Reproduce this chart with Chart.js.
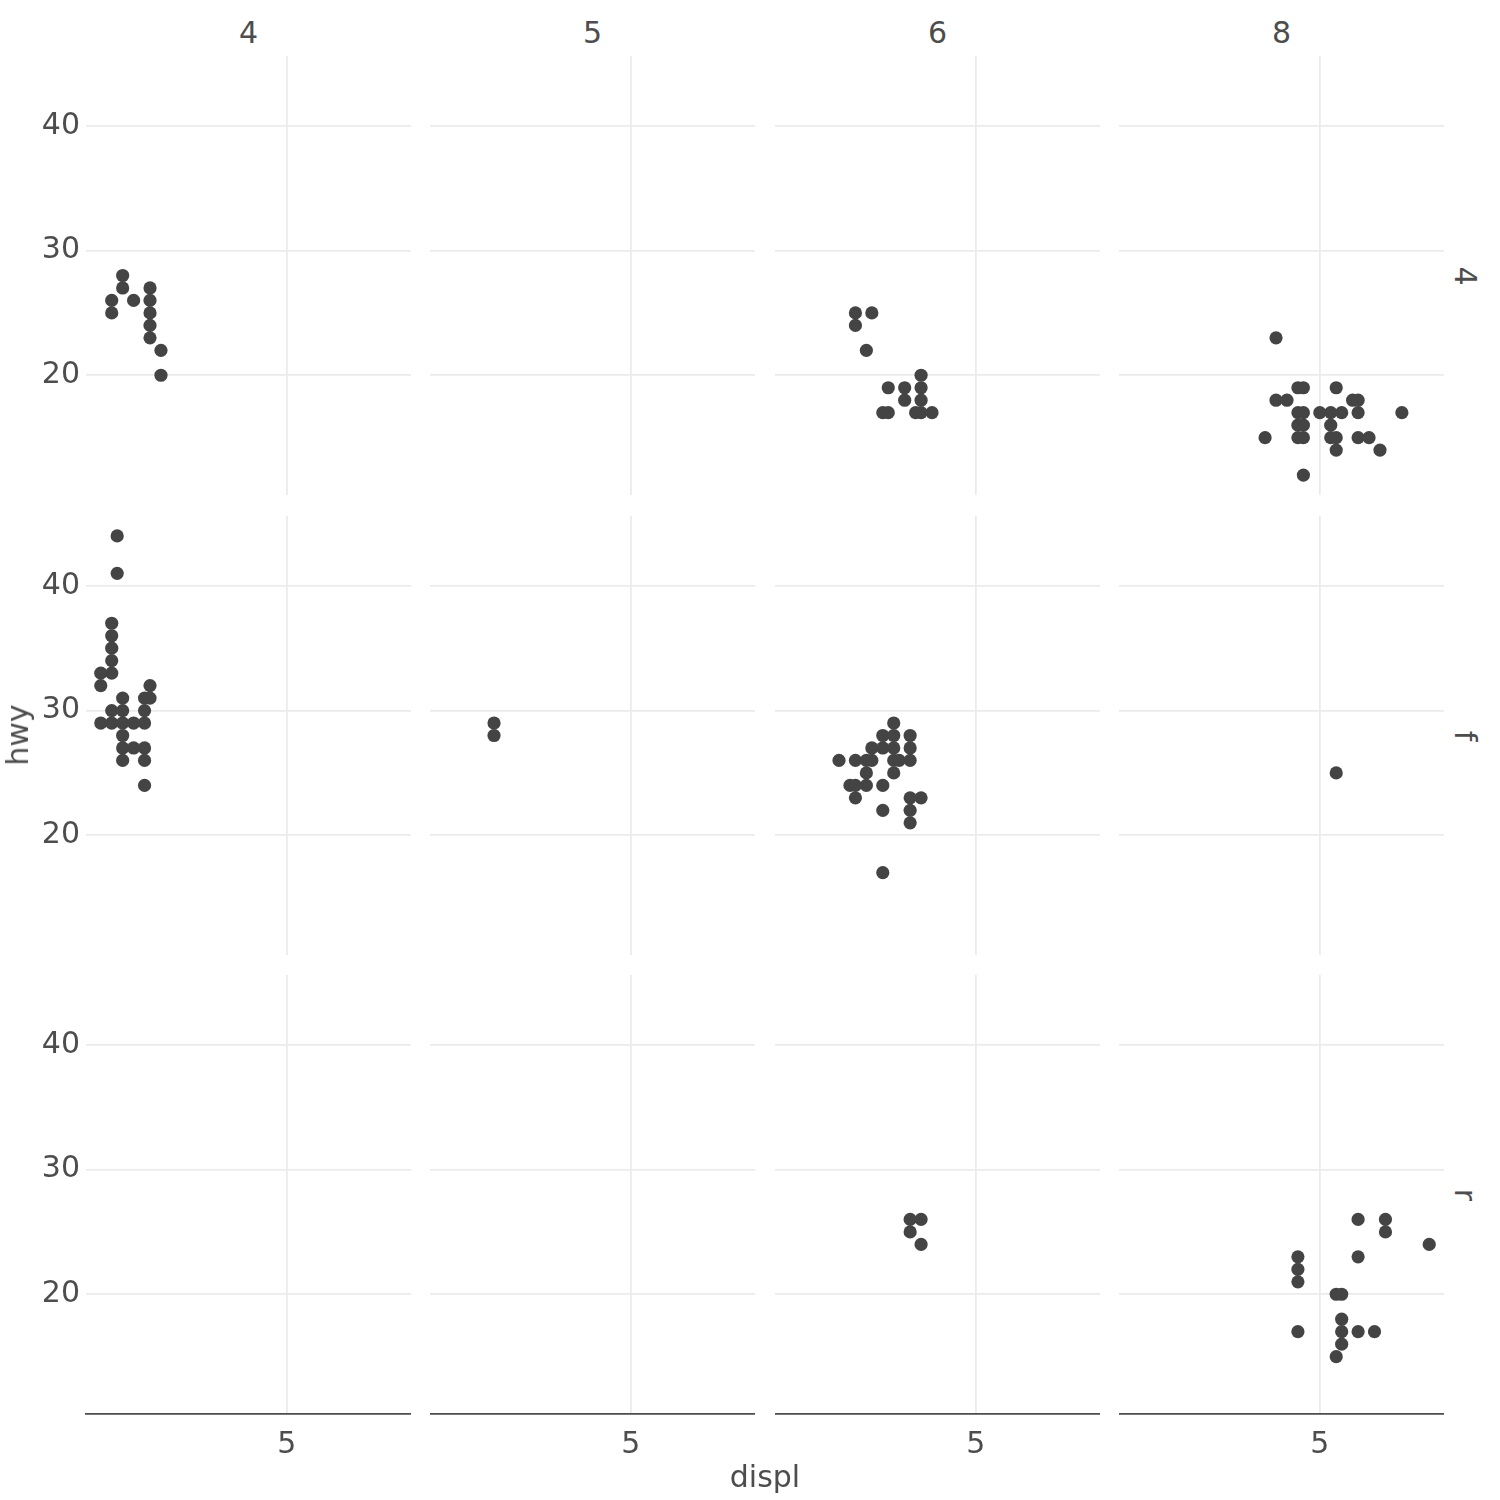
<!DOCTYPE html>
<html lang="en">
<head>
  <meta charset="UTF-8">
  <title>hwy vs displ by drv and cyl</title>
  <style>
    body {
      margin: 0;
      background: #ffffff;
    }
    #page {
      position: relative;
      width: 1500px;
      height: 1500px;
      font-family: "DejaVu Sans", sans-serif;
      color: #4d4d4d;
    }
    .panel {
      position: absolute;
    }
    .label {
      position: absolute;
      font-size: 30px;
      line-height: 30px;
      white-space: nowrap;
      transform: translate(-50%, -50%);
    }
  </style>
  <script src="https://cdn.jsdelivr.net/npm/chart.js"></script>
</head>
<body>
  <div id="page"></div>

  <script>
    // facet levels
    const drvLevels = ["4", "f", "r"];
    const cylLevels = ["4", "5", "6", "8"];

    // axis ticks
    const xTicks = [5];
    const yTicks = [20, 30, 40];

    // drv = 4
    const displ_4_4 = [1.8, 1.8, 2.0, 2.0, 2.2, 2.5, 2.5, 2.5, 2.5, 2.5, 2.7, 2.7];
    const hwy_4_4   = [26, 25, 28, 27, 26, 27, 26, 25, 24, 23, 22, 20];
    const displ_4_5 = [];
    const hwy_4_5   = [];
    const displ_4_6 = [2.8, 2.8, 3.1, 3.0, 3.4, 3.3, 3.4, 3.7, 3.7, 4.0, 4.0, 4.0, 4.0, 3.9, 4.2];
    const hwy_4_6   = [25, 24, 25, 22, 19, 17, 17, 19, 18, 20, 19, 18, 17, 17, 17];
    const displ_4_8 = [4.2, 4.6, 4.7, 5.3, 4.2, 4.4, 5.6, 5.7,
                       4.6, 4.7, 5.0, 5.2, 5.4, 5.7, 6.5,
                       4.6, 4.7, 5.2,
                       4.0, 4.6, 4.7, 5.2, 5.3, 5.7, 5.9,
                       5.3, 6.1, 4.7];
    const hwy_4_8   = [23, 19, 19, 19, 18, 18, 18, 18,
                       17, 17, 17, 17, 17, 17, 17,
                       16, 16, 16,
                       15, 15, 15, 15, 15, 15, 15,
                       14, 14, 12];

    // drv = f
    const displ_f_4 = [1.9, 1.9, 1.8, 1.8, 1.8, 1.8, 1.8, 1.6, 1.6, 2.5, 2.4, 2.5, 2.0, 1.8,
                       2.0, 2.4, 1.6, 1.8, 2.0, 2.2, 2.4, 2.0, 2.0, 2.2, 2.4, 2.0, 2.4, 2.4];
    const hwy_f_4   = [44, 41, 37, 36, 35, 34, 33, 33, 32, 32, 31, 31, 31, 30,
                       30, 30, 29, 29, 29, 29, 29, 28, 27, 27, 27, 26, 26, 24];
    const displ_f_5 = [2.5, 2.5];
    const hwy_f_5   = [29, 28];
    const displ_f_6 = [3.5, 3.3, 3.5, 3.8, 3.1, 3.3, 3.5, 3.8, 2.5, 2.8, 3.0, 3.1, 3.5, 3.6,
                       3.8, 3.0, 3.5, 2.7, 2.8, 3.0, 3.3, 2.8, 3.8, 4.0, 3.3, 3.8, 3.8, 3.3];
    const hwy_f_6   = [29, 28, 28, 28, 27, 27, 27, 27, 26, 26, 26, 26, 26, 26,
                       26, 25, 25, 24, 24, 24, 24, 23, 23, 23, 22, 22, 21, 17];
    const displ_f_8 = [5.3];
    const hwy_f_8   = [25];

    // drv = r
    const displ_r_4 = [];
    const hwy_r_4   = [];
    const displ_r_5 = [];
    const hwy_r_5   = [];
    const displ_r_6 = [3.8, 4.0, 3.8, 4.0];
    const hwy_r_6   = [26, 26, 25, 24];
    const displ_r_8 = [4.6, 4.6, 4.6, 4.6, 5.3, 5.4, 5.4, 5.4, 5.4, 5.3, 5.7, 6.0, 5.7, 6.2, 6.2, 7.0, 5.7];
    const hwy_r_8   = [23, 22, 21, 17, 20, 20, 18, 17, 16, 15, 17, 17, 26, 26, 25, 24, 23];

    const panels = {
      "4": { "4": [displ_4_4, hwy_4_4], "5": [displ_4_5, hwy_4_5], "6": [displ_4_6, hwy_4_6], "8": [displ_4_8, hwy_4_8] },
      "f": { "4": [displ_f_4, hwy_f_4], "5": [displ_f_5, hwy_f_5], "6": [displ_f_6, hwy_f_6], "8": [displ_f_8, hwy_f_8] },
      "r": { "4": [displ_r_4, hwy_r_4], "5": [displ_r_5, hwy_r_5], "6": [displ_r_6, hwy_r_6], "8": [displ_r_8, hwy_r_8] }
    };

    // layout
    const colLeft = [86, 430, 775, 1119];
    const rowTop = [56, 516, 975];
    const PANEL_W = 325;
    const PANEL_H = 439;
    const Y_AXIS_W = 86;
    const X_AXIS_H = 60;

    const INK = "#4d4d4d";
    const GRID = "#ebebeb";
    const POINT = "#444444";
    const tickFont = { family: "DejaVu Sans", size: 30 };

    const page = document.getElementById("page");

    function addLabel(text, x, y, rotate) {
      const el = document.createElement("div");
      el.className = "label";
      el.textContent = text;
      el.style.left = x + "px";
      el.style.top = y + "px";
      if (rotate) {
        el.style.transform = "translate(-50%, -50%) rotate(" + rotate + "deg)";
      }
      page.appendChild(el);
    }

    // no overflow padding from tick labels, so every plot area lines up
    function noPadding(axis) {
      axis.paddingTop = 0;
      axis.paddingBottom = 0;
      axis.paddingLeft = 0;
      axis.paddingRight = 0;
    }

    function makePanel(row, col) {
      const [xs, ys] = panels[drvLevels[row]][cylLevels[col]];
      const isLeft = col === 0;
      const isBottom = row === drvLevels.length - 1;

      const w = PANEL_W + (isLeft ? Y_AXIS_W : 0);
      const h = PANEL_H + (isBottom ? X_AXIS_H : 0);

      const wrap = document.createElement("div");
      wrap.className = "panel";
      wrap.style.left = (colLeft[col] - (isLeft ? Y_AXIS_W : 0)) + "px";
      wrap.style.top = rowTop[row] + "px";
      wrap.style.width = w + "px";
      wrap.style.height = h + "px";

      const canvas = document.createElement("canvas");
      canvas.width = w;
      canvas.height = h;
      wrap.appendChild(canvas);
      page.appendChild(wrap);

      new Chart(canvas, {
        type: "scatter",
        data: {
          datasets: [{
            data: xs.map((x, i) => ({ x: x, y: ys[i] })),
            backgroundColor: POINT,
            borderWidth: 0,
            pointRadius: 6.6,
            pointHoverRadius: 6.6
          }]
        },
        options: {
          responsive: false,
          animation: false,
          layout: { padding: 0, autoPadding: false },
          plugins: {
            legend: { display: false },
            tooltip: { enabled: false }
          },
          scales: {
            x: {
              type: "linear",
              min: 1.33,
              max: 7.27,
              afterBuildTicks: axis => { axis.ticks = xTicks.map(v => ({ value: v })); },
              afterFit: axis => {
                axis.height = isBottom ? X_AXIS_H : 0;
                noPadding(axis);
              },
              grid: { color: GRID, lineWidth: 1.8, drawTicks: false },
              border: { display: isBottom, color: INK, width: 1.8 },
              ticks: { display: isBottom, padding: 13, color: INK, font: tickFont }
            },
            y: {
              type: "linear",
              min: 10.4,
              max: 45.6,
              afterBuildTicks: axis => { axis.ticks = yTicks.map(v => ({ value: v })); },
              afterFit: axis => {
                axis.width = isLeft ? Y_AXIS_W : 0;
                noPadding(axis);
              },
              grid: { color: GRID, lineWidth: 1.8, drawTicks: false },
              border: { display: false },
              ticks: { display: isLeft, padding: 6, color: INK, font: tickFont }
            }
          }
        }
      });
    }

    for (let r = 0; r < drvLevels.length; r++) {
      for (let c = 0; c < cylLevels.length; c++) {
        makePanel(r, c);
      }
    }

    // strip labels
    cylLevels.forEach((lvl, c) => addLabel(lvl, colLeft[c] + PANEL_W / 2, 33));
    drvLevels.forEach((lvl, r) => addLabel(lvl, 1465, rowTop[r] + PANEL_H / 2, 90));

    // axis titles
    addLabel("hwy", 18, 735, -90);
    addLabel("displ", 765, 1477);
  </script>
</body>
</html>
